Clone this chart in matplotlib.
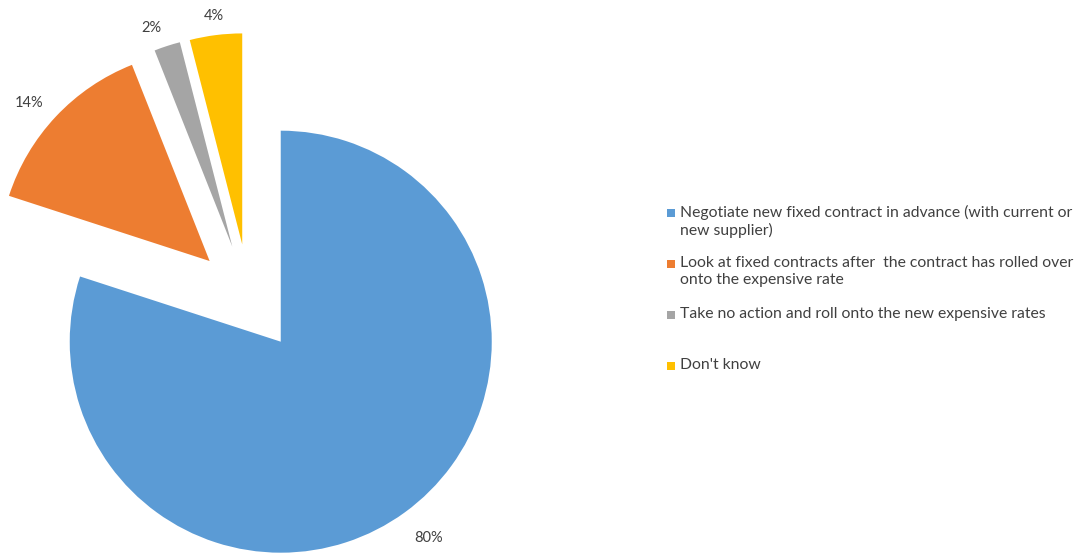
import matplotlib
matplotlib.use('Agg')
import numpy as np
import matplotlib.pyplot as plt
from matplotlib.patches import Rectangle

# survey answers, clockwise from 12 o'clock
answers = ['Negotiate new fixed contract in advance (with current or\nnew supplier)',
           'Look at fixed contracts after  the contract has rolled over\nonto the expensive rate',
           'Take no action and roll onto the new expensive rates',
           "Don't know"]
shares = [80, 14, 2, 4]
colors = ['#5B9BD5', '#ED7D31', '#A5A5A5', '#FFC000']

plt.rcParams['font.family'] = ['Lato', 'DejaVu Sans']
txt_col = '#404040'

W, H = 1081, 555
fig = plt.figure(figsize=(W / 100, H / 100), dpi=100)
ax = fig.add_axes([0, 0, 1, 1])

# explode is in data units here (pixels), not a fraction of the radius
wedges, _, pcts = ax.pie(shares, colors=colors, startangle=90, counterclock=False,
                         explode=[54] * len(shares), center=(249, 257), radius=211,
                         autopct='%d%%', pctdistance=1.08,
                         textprops=dict(color=txt_col, fontsize=10.5),
                         wedgeprops=dict(linewidth=0))

# put each label just outside its wedge, anchored on the corner nearest the arc
for w, t in zip(wedges, pcts):
    th = np.deg2rad((w.theta1 + w.theta2) / 2)
    ux, uy = np.cos(th), np.sin(th)
    t.set_position((w.center[0] + 1.08 * w.r * ux,
                    w.center[1] + 1.08 * w.r * uy - 5))
    t.set_ha('left' if ux > 0.2 else ('right' if ux < -0.2 else 'center'))
    t.set_va('bottom' if uy > 0 else 'top')

# pie() sets its own limits, so use pixel units afterwards
ax.set_xlim(0, W)
ax.set_ylim(0, H)
ax.set_aspect('equal')
ax.axis('off')

# legend drawn by hand so each entry gets the same slot height
top = 205
for i, (lab, col) in enumerate(zip(answers, colors)):
    y = H - top - i * 51
    ax.add_patch(Rectangle((667, y - 12), 8, 8, color=col, linewidth=0))
    ax.text(680, y, lab, color=txt_col, fontsize=11.3, va='top', ha='left',
            linespacing=1.27)

fig.savefig('out.png', dpi=100, facecolor='white')
